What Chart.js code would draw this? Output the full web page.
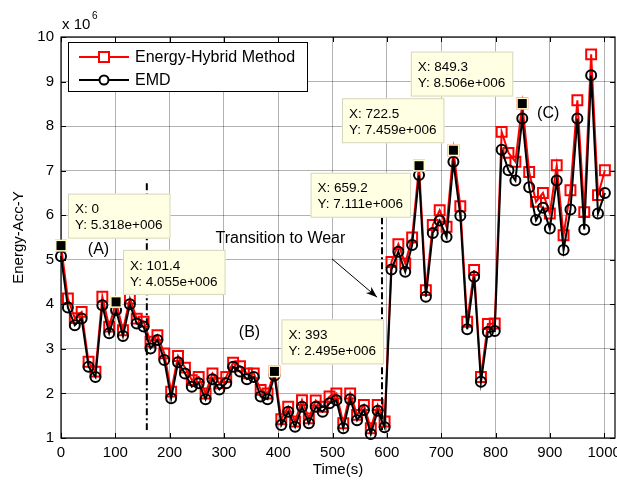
<!DOCTYPE html>
<html><head><meta charset="utf-8">
<script src="https://cdn.jsdelivr.net/npm/chart.js@4"></script>
<style>html,body{margin:0;padding:0;background:#fff}canvas{display:block}</style>
</head><body>
<canvas id="c" width="617" height="483"></canvas>
<script>
// ---- data ----
const times = [0,12.7,25.4,38,50.7,63.4,76.1,88.7,101.4,114.1,126.8,139.4,152.1,164.8,177.5,190.1,202.8,215.5,228.2,240.8,253.5,266.2,278.9,291.5,304.2,316.9,329.6,342.3,354.9,367.6,380.3,393,405.6,418.3,431,443.7,456.3,469,481.7,494.4,507,519.7,532.4,545.1,557.7,570.4,583.1,595.8,608.4,621.1,633.8,646.5,659.2,671.8,684.5,697.2,709.9,722.5,735.2,747.9,760.6,773.2,785.9,798.6,811.3,823.9,836.6,849.3,862,874.6,887.3,900,912.7,925.3,938,950.7,963.4,976.1,988.7,1001.4];
const hybridValues = [5.318,4.13,3.69,3.83,2.71,2.49,4.17,3.50,4.055,3.42,4.13,3.68,3.61,3.16,3.31,2.90,2.04,2.84,2.58,2.30,2.37,2.00,2.45,2.23,2.37,2.69,2.61,2.45,2.45,2.08,2.00,2.495,1.42,1.70,1.37,1.85,1.44,1.84,1.70,1.93,2.00,1.33,2.00,1.52,1.74,1.22,1.74,1.37,4.95,5.35,4.92,5.50,7.111,4.32,5.78,6.11,5.74,7.459,6.20,3.61,4.77,2.37,3.56,3.57,7.87,7.40,7.20,8.506,6.97,6.30,6.50,6.04,7.12,5.55,6.56,8.58,6.07,9.61,6.45,7.01];
const emdValues = [5.08,3.93,3.53,3.68,2.60,2.37,3.98,3.35,3.87,3.29,4.00,3.57,3.50,3.01,3.20,2.75,1.89,2.70,2.45,2.15,2.23,1.87,2.32,2.09,2.23,2.60,2.49,2.32,2.37,1.93,1.87,2.40,1.29,1.59,1.25,1.70,1.33,1.70,1.59,1.78,1.85,1.22,1.87,1.40,1.63,1.09,1.61,1.24,4.78,5.18,4.73,5.33,6.90,4.17,5.60,5.88,5.51,7.20,5.99,3.44,4.62,2.26,3.38,3.40,7.47,7.01,6.78,8.17,6.63,5.89,6.17,5.70,6.78,5.22,6.13,8.17,5.68,9.14,6.04,6.50];
const seriesNames = ['Energy-Hybrid Method','EMD'];
const xTickValues = [0,100,200,300,400,500,600,700,800,900,1000];
const yTickValues = [1,2,3,4,5,6,7,8,9,10];
const datatipIndices = [0,8,31,52,57,67];
const regionTexts = ['(A)','(B)','(C)','Transition to Wear'];
const regionTextX = [69,347,897,404];
const regionTextY = [5.22,3.36,8.29,5.47];
const markerLineX = [158,591];
const markerLineTop = [6.72,6.63];
const markerLineBottom = [1.18,1.18];
const arrowFrom = [499,5.02];
const arrowTo = [582,4.16];

// ---- style ----
const F = '"Liberation Sans", Arial, sans-serif';
const tipSides = ['ne','ne','ne','sw','nw','nw'];

const overlay = {
  id:'overlay',
  afterDatasetsDraw(chart){
    const {ctx, chartArea:a, scales:{x,y}} = chart;
    ctx.save();
    // frame
    ctx.strokeStyle='#000'; ctx.lineWidth=1.2;
    ctx.strokeRect(a.left, a.top, a.right-a.left, a.bottom-a.top);
    // inward ticks
    ctx.lineWidth=1;
    ctx.beginPath();
    xTickValues.forEach(v=>{const px=Math.round(x.getPixelForValue(v))+0.5;
      ctx.moveTo(px,a.bottom); ctx.lineTo(px,a.bottom-5);
      ctx.moveTo(px,a.top); ctx.lineTo(px,a.top+5);});
    yTickValues.forEach(v=>{const py=Math.round(y.getPixelForValue(v))+0.5;
      ctx.moveTo(a.left,py); ctx.lineTo(a.left+5,py);
      ctx.moveTo(a.right,py); ctx.lineTo(a.right-5,py);});
    ctx.stroke();
    // dash-dot lines
    ctx.lineWidth=2; ctx.setLineDash([7,3,2,3]);
    markerLineX.forEach((v,i)=>{
      const px=x.getPixelForValue(v);
      ctx.beginPath(); ctx.moveTo(px,y.getPixelForValue(markerLineTop[i]));
      ctx.lineTo(px,y.getPixelForValue(markerLineBottom[i])); ctx.stroke();
    });
    ctx.setLineDash([]);
    // arrow
    const ax0=x.getPixelForValue(arrowFrom[0]), ay0=y.getPixelForValue(arrowFrom[1]);
    const ax1=x.getPixelForValue(arrowTo[0]), ay1=y.getPixelForValue(arrowTo[1]);
    ctx.lineWidth=1; ctx.beginPath(); ctx.moveTo(ax0,ay0); ctx.lineTo(ax1,ay1); ctx.stroke();
    const ang=Math.atan2(ay1-ay0,ax1-ax0);
    ctx.fillStyle='#000'; ctx.beginPath();
    ctx.moveTo(ax1,ay1);
    ctx.lineTo(ax1-12*Math.cos(ang-0.35),ay1-12*Math.sin(ang-0.35));
    ctx.lineTo(ax1-8*Math.cos(ang),ay1-8*Math.sin(ang));
    ctx.lineTo(ax1-12*Math.cos(ang+0.35),ay1-12*Math.sin(ang+0.35));
    ctx.closePath(); ctx.fill();
    // texts
    ctx.font='16px '+F; ctx.fillStyle='#000'; ctx.textAlign='center'; ctx.textBaseline='middle';
    regionTexts.forEach((t,i)=>ctx.fillText(t,x.getPixelForValue(regionTextX[i]),y.getPixelForValue(regionTextY[i])));
    // multiplier
    ctx.textAlign='left'; ctx.font='15px '+F;
    ctx.fillText('x 10',a.left+1,25);
    ctx.font='10px '+F; ctx.fillText('6',a.left+31,16);
    // datatips
    datatipIndices.forEach((idx,k)=>{
      const px=x.getPixelForValue(times[idx]), py=y.getPixelForValue(hybridValues[idx]);
      const lines=['X: '+times[idx], 'Y: '+hybridValues[idx].toFixed(3)+'e+006'];
      ctx.font='13.5px '+F;
      const w=Math.max(...lines.map(l=>ctx.measureText(l).width))+15, h=45;
      let bx,by; const s=tipSides[k];
      if(s==='ne'){bx=px+7;by=py-7-h;} else if(s==='nw'){bx=px-9-w;by=py-7-h;} else {bx=px-8-w;by=py+7;}
      ctx.fillStyle='#ffffe4'; ctx.fillRect(bx,by,w,h);
      ctx.strokeStyle='#d6d6bf'; ctx.lineWidth=1; ctx.strokeRect(bx+0.5,by+0.5,w-1,h-1);
      ctx.fillStyle='#000'; ctx.textAlign='left'; ctx.textBaseline='middle';
      ctx.fillText(lines[0],bx+7,by+16); ctx.fillText(lines[1],bx+7,by+32);
      ctx.fillStyle='#ffffcc'; ctx.fillRect(px-6,py-6,12,12);
      ctx.fillStyle='#000'; ctx.fillRect(px-4.5,py-4.5,9,9);
    });
    // legend
    const lx=a.left+7, ly=a.top+5, lw=239, lh=49;
    ctx.fillStyle='#fff'; ctx.fillRect(lx,ly,lw,lh);
    ctx.strokeStyle='#000'; ctx.lineWidth=1; ctx.strokeRect(lx+0.5,ly+0.5,lw,lh);
    const cols=['#ff0000','#000000'];
    [15,38].forEach((dy,i)=>{
      const yy=ly+dy;
      ctx.strokeStyle=cols[i]; ctx.lineWidth=2;
      ctx.beginPath(); ctx.moveTo(lx+11,yy); ctx.lineTo(lx+61,yy); ctx.stroke();
      if(i===0){ ctx.fillStyle='#fff'; ctx.fillRect(lx+31,yy-5,10,10); ctx.strokeRect(lx+31,yy-5,10,10); }
      else { ctx.beginPath(); ctx.arc(lx+36,yy,4.5,0,Math.PI*2); ctx.fillStyle='#fff'; ctx.fill(); ctx.stroke(); }
      ctx.fillStyle='#000'; ctx.font='16px '+F; ctx.textAlign='left'; ctx.textBaseline='middle';
      ctx.fillText(seriesNames[i],lx+67,yy+1);
    });
    ctx.restore();
  }
};

new Chart(document.getElementById('c'),{
  type:'line',
  data:{datasets:[
    {label:seriesNames[0],data:times.map((t,i)=>({x:t,y:hybridValues[i]})),borderColor:'#ff0000',borderWidth:2,
     pointStyle:'rect',pointRadius:7,pointBorderWidth:2,pointBorderColor:'#ff0000',pointBackgroundColor:'rgba(0,0,0,0)',order:2,clip:false,tension:0},
    {label:seriesNames[1],data:times.map((t,i)=>({x:t,y:emdValues[i]})),borderColor:'#000000',borderWidth:2,
     pointStyle:'circle',pointRadius:5,pointBorderWidth:2,pointBorderColor:'#000',pointBackgroundColor:'rgba(0,0,0,0)',order:1,clip:false,tension:0}
  ]},
  options:{
    responsive:false, animation:false, devicePixelRatio:1,
    layout:{autoPadding:false,padding:{top:37,right:2,left:0,bottom:0}},
    plugins:{legend:{display:false},tooltip:{enabled:false}},
    scales:{
      x:{type:'linear',min:0,max:1020,
        afterBuildTicks:s=>{s.ticks=xTickValues.map(v=>({value:v}));},
        afterFit:s=>{s.height=45;s.paddingLeft=0;s.paddingRight=0;},
        grid:{color:'rgba(0,0,0,0.3)',lineWidth:1,drawTicks:false},border:{display:false},
        ticks:{color:'#000',font:{family:F,size:15},padding:6,maxRotation:0,autoSkip:false,callback:v=>String(v)},
        title:{display:true,text:'Time(s)',color:'#000',font:{family:F,size:15},padding:{top:0,bottom:4}}},
      y:{min:1,max:10,
        afterBuildTicks:s=>{s.ticks=yTickValues.map(v=>({value:v}));},
        afterFit:s=>{s.width=61;s.paddingTop=0;s.paddingBottom=0;},
        grid:{color:'rgba(0,0,0,0.3)',lineWidth:1,drawTicks:false},border:{display:false},
        ticks:{color:'#000',font:{family:F,size:15},padding:7,autoSkip:false,callback:v=>String(v)},
        title:{display:true,text:'Energy-Acc-Y',color:'#000',font:{family:F,size:15},padding:{top:10,bottom:0}}}
    }
  },
  plugins:[overlay]
});
</script>
</body></html>
